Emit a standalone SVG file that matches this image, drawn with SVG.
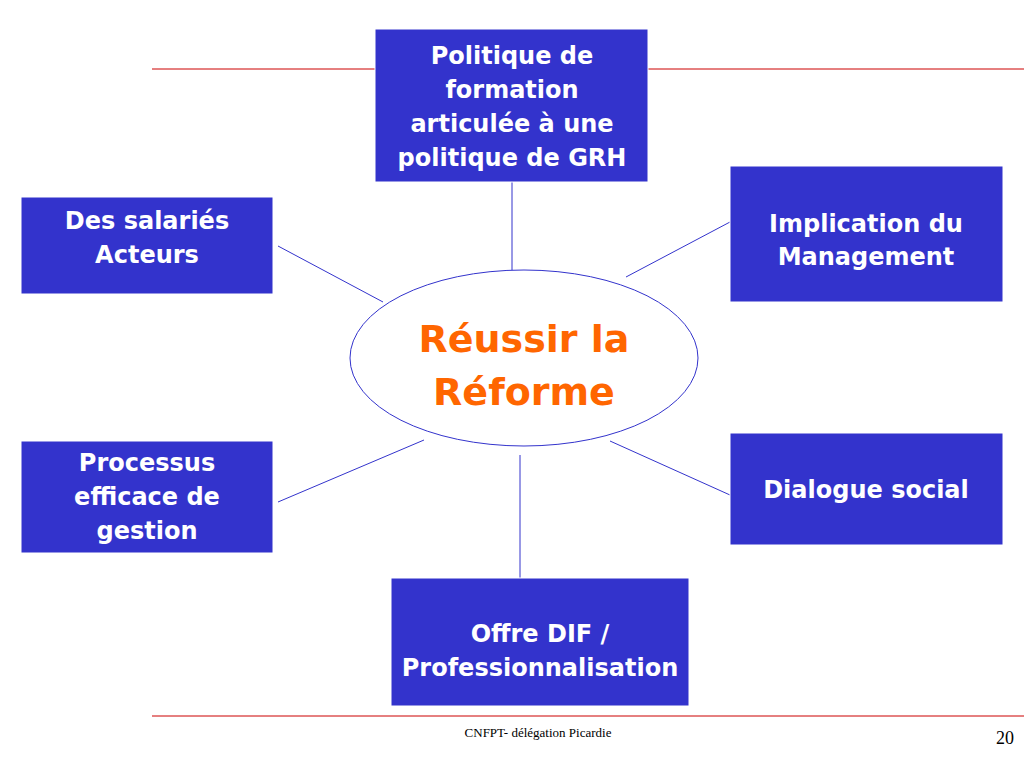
<svg xmlns="http://www.w3.org/2000/svg" width="1024" height="768" viewBox="0 0 1024 768">
<style>
.b{fill:#3333cc;stroke:#ffffff;stroke-width:1}
.t{font-family:"DejaVu Sans",sans-serif;font-weight:bold;font-size:24px;fill:#fff;text-anchor:middle}
.c line{stroke:#3333cc;stroke-width:1}
.r{stroke:#cc0000;stroke-width:1}
</style>
<rect width="1024" height="768" fill="#fff"/>
<line class="r" x1="152" y1="69" x2="375" y2="69"/>
<line class="r" x1="648" y1="69" x2="1024" y2="69"/>
<line class="r" x1="152" y1="716" x2="1024" y2="716"/>
<g class="c" id="connectors">
<line x1="512" y1="182" x2="512" y2="270"/>
<line x1="278" y1="246" x2="383" y2="302"/>
<line x1="626" y1="277" x2="730" y2="222"/>
<line x1="278" y1="502" x2="424" y2="440"/>
<line x1="610" y1="441" x2="730" y2="495"/>
<line x1="520" y1="455" x2="520" y2="578"/>
</g>
<g id="center">
<ellipse cx="524" cy="358" rx="174" ry="88" fill="#fff" stroke="#3333cc"/>
<text x="524" y="352" font-family="DejaVu Sans,sans-serif" font-weight="bold" font-size="38" fill="#ff6600" text-anchor="middle">Réussir la</text>
<text x="524" y="405" font-family="DejaVu Sans,sans-serif" font-weight="bold" font-size="38" fill="#ff6600" text-anchor="middle">Réforme</text>
</g>
<g id="n1"><rect class="b" x="375" y="29" width="273" height="153"/>
<text class="t" x="512" y="64">Politique de</text><text class="t" x="512" y="98">formation</text><text class="t" x="512" y="132">articulée à une</text><text class="t" x="512" y="166">politique de GRH</text></g>
<g id="n2"><rect class="b" x="21" y="197" width="252" height="97"/>
<text class="t" x="147" y="229">Des salariés</text><text class="t" x="147" y="263">Acteurs</text></g>
<g id="n3"><rect class="b" x="730" y="166" width="273" height="136"/>
<text class="t" x="866" y="232">Implication du</text><text class="t" x="866" y="265">Management</text></g>
<g id="n4"><rect class="b" x="21" y="441" width="252" height="112"/>
<text class="t" x="147" y="471">Processus</text><text class="t" x="147" y="505">efficace de</text><text class="t" x="147" y="539">gestion</text></g>
<g id="n5"><rect class="b" x="730" y="433" width="273" height="112"/>
<text class="t" x="866" y="498">Dialogue social</text></g>
<g id="n6"><rect class="b" x="391" y="578" width="298" height="128"/>
<text class="t" x="540" y="642">Offre DIF /</text><text class="t" x="540" y="676">Professionnalisation</text></g>
<text x="538" y="737" font-family="Liberation Serif,serif" font-size="13" text-anchor="middle">CNFPT- délégation Picardie</text>
<text x="1014" y="744" font-family="Liberation Serif,serif" font-size="18" text-anchor="end">20</text>
</svg>
